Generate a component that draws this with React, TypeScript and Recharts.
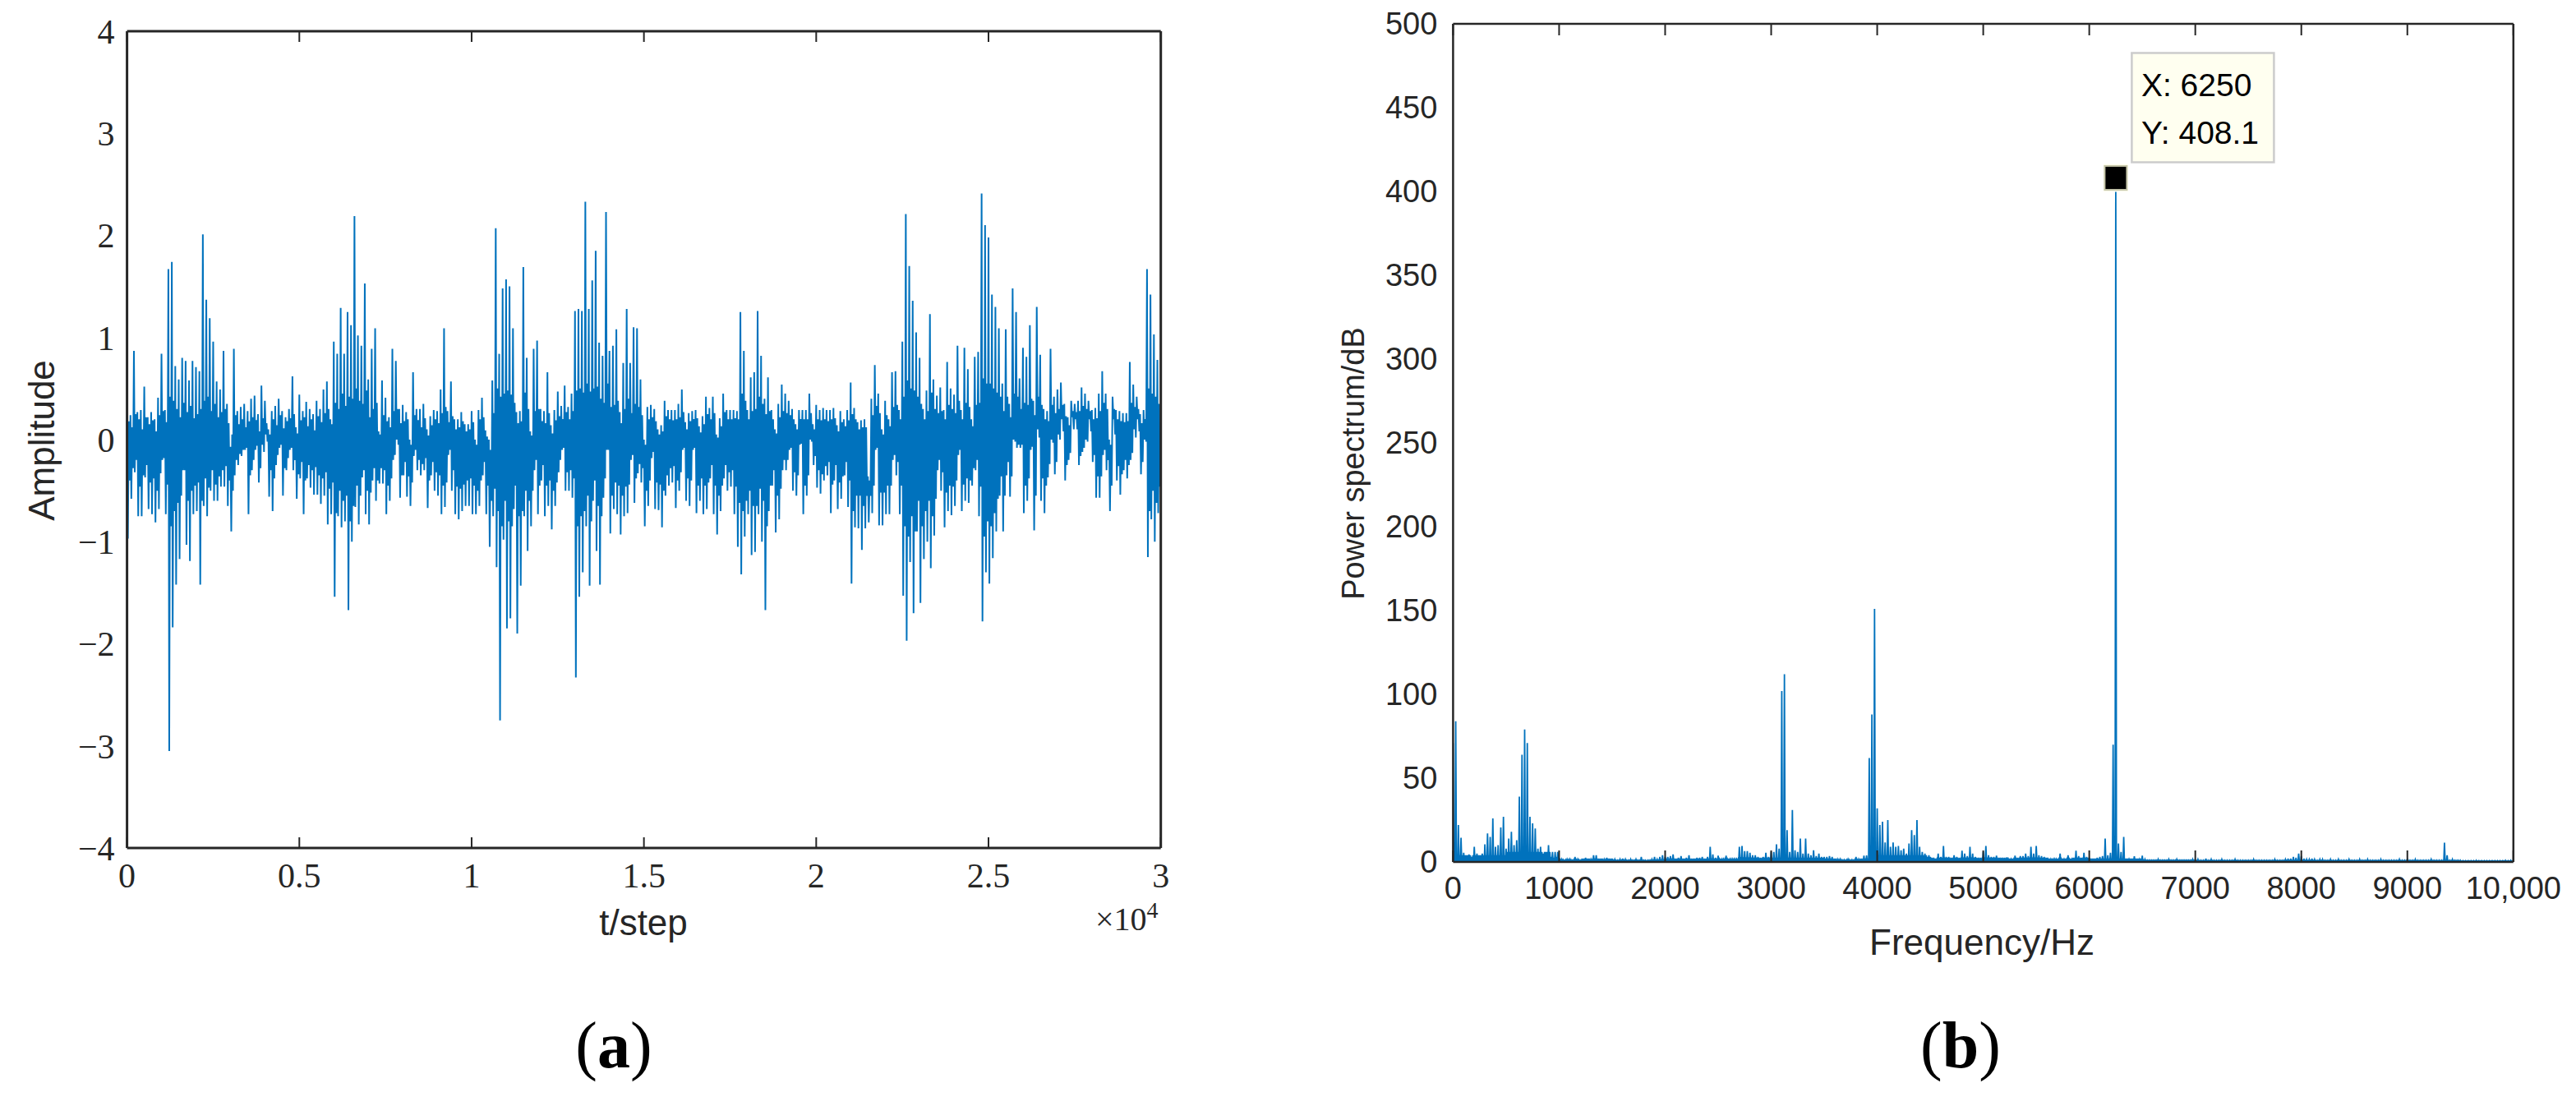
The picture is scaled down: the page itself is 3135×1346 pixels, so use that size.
import { LineChart, Line, XAxis, YAxis, ReferenceDot } from 'recharts';

// left panel, one high and one low reading per 100 steps
const ampStep = 100;
const ampHigh = [
  .32, .24, .87, .27, .29, .52, .22, .27, .2, .41, .84, .29, 1.67, 1.74, .72, .59, .8, .77, .58, .77,
  .71, .67, 2.01, 1.37, 1.19, .96, .57, .49, .87, .35, -.07, .89, .28, .32, .35, .28, .4, .43, .25, .53,
  .38, .1, .28, .33, .4, .28, .22, .3, .62, .12, .44, .28, .37, .3, .25, .38, .3, .49, .57, .2,
  .96, .84, 1.29, .84, 1.25, 1.12, 2.19, 1.02, .92, 1.53, .59, .89, 1.09, .08, .58, .41, .22, .89, .77, .3,
  .34, .27, 0, .66, .3, .3, .35, .1, .23, .29, .28, .49, 1.09, .28, .57, .2, .2, .27, .15, .15,
  .28, 0, .29, .41, .09, 0, .58, 2.07, .84, 1.48, 1.57, 1.5, 1.09, .27, .28, 1.69, .8, .08, .89, .97,
  .3, .28, .66, .14, .29, .47, .33, .53, .32, .45, 1.26, 1.28, 1.26, 2.33, 1.28, 1.56, 1.85, .95, .82, 2.23,
  .87, .92, 1.08, .27, .75, 1.28, .75, 1.1, 1.09, .59, 0, .32, .34, .3, .1, .14, .38, .29, .29, .29,
  .35, .49, .17, .26, .28, .29, .13, .23, .42, .31, .42, .05, .21, .45, .29, .29, .29, .28, 1.25, .87,
  .29, .61, .66, 1.26, .82, .4, .61, .29, .1, .35, .54, .45, .38, .3, .15, .29, .29, .29, .45, .15,
  .34, .29, .31, .29, .29, .31, .14, .28, .2, .29, .56, .31, .17, .19, .2, -.36, .4, .73, .45, .1,
  .38, .2, .66, .67, .29, .96, 2.21, 1.7, 1.36, 1.05, .8, .3, .48, 1.23, .59, .43, .51, .29, .76, .5,
  .44, .92, .29, .9, .69, .2, .81, .86, 2.41, 2.1, 1.98, 1.42, 1.3, 1.09, .55, 1.08, .35, 1.48, 1.25, .6,
  .9, .81, 1.12, .38, 1.3, .83, .3, .28, .89, .42, .49, .56, .35, .22, .38, .35, .38, .51, .45, .38,
  .29, .31, .45, .67, .45, 0, .42, .29, .28, .26, .26, .76, .54, .42, .25, .29, 1.67, 1.42, 1.03, .78,
];
const ampLow = [
  -.97, -.58, -.32, -.75, -.75, -.37, -.68, -.73, -.81, -.68, -.2, -.73, -3.05, -1.84, -1.42, -1.17, -.3, -1.03, -1.19, -.73,
  -.7, -1.42, -.65, -.75, -.5, -.6, -.6, -.46, -.46, -.65, -.9, -.35, -.25, -.16, -.1, -.73, -.3, -.1, -.42, -.05,
  .05, -.56, -.7, -.25, -.08, -.55, -.3, -.1, -.3, -.58, -.38, -.73, -.38, -.47, -.54, -.54, -.63, -.55, -.83, -.73,
  -1.54, -.75, -.86, -.8, -1.67, -1, -.66, -.83, -.37, -.73, -.83, -.4, -.6, -.43, -.43, -.73, -.6, -.2, 0, -.57,
  -.35, -.56, -.65, -.16, -.3, -.35, -.3, -.67, -.35, -.5, -.55, -.73, -.66, -.15, -.5, -.73, -.78, -.7, -.65, -.65,
  -.73, -.73, -.65, -.35, -.73, -1.05, -.75, -1.25, -2.75, -.98, -1.85, -1.75, -.68, -1.9, -1.43, -.75, -1.09, -.85, -.3, -.73,
  -.4, -.75, -.65, -.88, -.65, -.32, -.1, -.5, -.5, -.57, -2.33, -1.54, -1.3, -.85, -1.43, -.6, -1.09, -1.42, -.57, -.1,
  -.92, -.68, -.73, -.93, -.75, -.72, -.2, -.62, -.33, -.42, -.85, -.65, -.18, -.68, -.69, -.86, -.55, -.45, -.42, -.67,
  -.5, -.1, -.6, -.65, -.1, -.72, -.6, -.73, -.68, -.38, -.73, -.93, -.7, -.38, -.5, -.46, -.73, -1.05, -1.32, -.95,
  -.73, -1.13, -1.1, -.73, -1, -1.67, -.7, -.45, -.91, -.78, -.3, -.3, -.1, -.5, -.55, -.05, -.73, -.55, 0, -.25,
  -.47, -.53, -.4, -.35, -.72, -.4, -.68, -.58, -.35, -.66, -1.41, -.86, -.87, -1.08, -.87, -.81, -.72, -.1, -.84, -.84,
  -.73, -.73, -.2, -.35, -.73, -1.53, -1.97, -1.2, -1.7, -.9, -1.6, -1.17, -1, -1.26, -.94, -.3, -.5, -.86, -.7, -.74,
  -.65, -.15, -.7, -.6, -.62, -.45, -.3, -.75, -1.78, -1.3, -1.41, -1.16, -.9, -.55, -.9, -.35, -.56, 0, -.08, -.08,
  -.72, -.6, -.1, -.89, .1, -.6, -.72, -.37, 0, -.34, .05, .2, -.4, -.2, .22, .2, -.25, -.12, 0, .2,
  -.22, -.57, -.57, -.15, -.3, -.7, .2, -.4, -.54, -.3, -.38, -.2, .1, .2, -.34, 0, -1.15, -.78, -1, -.72,
];
// second pass inside the dense part of the trace, same bins
const ampInnerHigh = [
  .18, .12, .25, .2, .1, .22, .15, .19, .08, .24, .28, .17, .42, .38, .3, .22, .36, .27, .33, .21,
  .25, .3, .38, .42, .28, .35, .22, .27, .3, .16, .05, .24, .15, .2, .12, .18, .22, .19, .08, .21,
  .16, .05, .2, .14, .24, .11, .18, .21, .25, .06, .19, .22, .13, .2, .09, .23, .17, .26, .3, .15,
  .36, .3, .45, .33, .42, .4, .5, .38, .35, .48, .22, .3, .36, .05, .24, .18, .12, .28, .3, .16,
  .18, .2, -.05, .24, .19, .12, .21, .04, .14, .2, .16, .26, .32, .17, .23, .1, .12, .18, .08, .1,
  .17, -.05, .2, .22, .03, -.1, .26, .5, .42, .45, .48, .44, .36, .16, .18, .46, .3, .04, .28, .3,
  .18, .16, .26, .06, .19, .23, .2, .27, .2, .28, .48, .5, .46, .55, .47, .5, .52, .4, .36, .55,
  .32, .34, .38, .16, .3, .4, .26, .35, .32, .24, -.05, .2, .22, .18, .05, .08, .23, .2, .19, .2,
  .22, .27, .1, .18, .2, .21, .07, .15, .25, .2, .26, .02, .13, .27, .2, .2, .21, .2, .45, .38,
  .2, .28, .3, .42, .35, .25, .28, .2, .06, .22, .28, .26, .24, .2, .1, .2, .2, .2, .26, .1,
  .2, .19, .2, .18, .2, .21, .08, .17, .13, .19, .25, .2, .1, .12, .12, -.4, .24, .33, .26, .05,
  .24, .13, .32, .34, .2, .42, .58, .5, .48, .42, .35, .2, .28, .46, .3, .26, .28, .2, .34, .3,
  .26, .38, .2, .36, .32, .13, .34, .36, .6, .55, .55, .5, .46, .42, .28, .42, .22, .45, .42, .3,
  .36, .34, .4, .24, .42, .34, .2, .18, .34, .26, .3, .34, .23, .14, .28, .27, .28, .33, .3, .28,
  .2, .21, .28, .36, .3, -.05, .3, .2, .18, .17, .18, .36, .32, .3, .16, .2, .5, .45, .42, .35,
];
const ampInnerLow = [
  -.4, -.28, -.2, -.46, -.35, -.25, -.42, -.38, -.5, -.33, -.18, -.44, -.85, -.7, -.62, -.55, -.3, -.6, -.5, -.45,
  -.42, -.6, -.38, -.47, -.3, -.44, -.36, -.3, -.26, -.4, -.5, -.2, -.14, -.1, -.08, -.35, -.2, -.06, -.28, -.12,
  -.02, -.3, -.38, -.15, -.05, -.28, -.18, -.08, -.2, -.34, -.22, -.4, -.25, -.3, -.27, -.35, -.38, -.32, -.48, -.42,
  -.72, -.5, -.6, -.55, -.8, -.65, -.45, -.55, -.3, -.5, -.52, -.28, -.4, -.28, -.3, -.45, -.38, -.15, -.05, -.35,
  -.22, -.36, -.42, -.1, -.2, -.24, -.18, -.4, -.22, -.32, -.35, -.45, -.42, -.1, -.3, -.46, -.48, -.44, -.4, -.38,
  -.45, -.5, -.4, -.22, -.45, -.6, -.48, -.7, -.85, -.6, -.8, -.85, -.45, -.75, -.7, -.5, -.6, -.5, -.2, -.45,
  -.25, -.45, -.4, -.5, -.42, -.2, -.08, -.32, -.3, -.38, -.85, -.75, -.7, -.55, -.8, -.4, -.65, -.75, -.38, -.1,
  -.55, -.42, -.45, -.55, -.46, -.44, -.15, -.38, -.24, -.28, -.5, -.4, -.12, -.42, -.44, -.5, -.35, -.28, -.26, -.4,
  -.32, -.08, -.38, -.4, -.08, -.45, -.38, -.45, -.42, -.25, -.45, -.55, -.45, -.25, -.32, -.3, -.46, -.62, -.7, -.6,
  -.5, -.65, -.65, -.48, -.6, -.85, -.45, -.3, -.55, -.48, -.2, -.2, -.08, -.32, -.35, -.04, -.45, -.35, -.02, -.16,
  -.3, -.34, -.26, -.22, -.44, -.25, -.42, -.36, -.22, -.4, -.7, -.55, -.55, -.65, -.55, -.55, -.45, -.08, -.52, -.52,
  -.45, -.45, -.15, -.22, -.45, -.85, -.95, -.75, -.9, -.6, -.85, -.7, -.6, -.75, -.58, -.2, -.32, -.52, -.45, -.46,
  -.4, -.1, -.44, -.38, -.4, -.28, -.2, -.46, -.95, -.8, -.85, -.72, -.58, -.36, -.55, -.22, -.36, -.02, -.05, -.05,
  -.45, -.38, -.07, -.55, .02, -.38, -.45, -.24, -.03, -.22, 0, .08, -.25, -.13, .1, .1, -.16, -.08, -.02, .08,
  -.15, -.36, -.36, -.1, -.2, -.45, .05, -.26, -.34, -.2, -.25, -.13, .02, .08, -.22, -.02, -.7, -.5, -.62, -.46,
];
const ampXTicks = [0, 5000, 10000, 15000, 20000, 25000, 30000];
const ampXLabels = ['0', '0.5', '1', '1.5', '2', '2.5', '3'];
const ampYTicks = [-4, -3, -2, -1, 0, 1, 2, 3, 4];

// right panel, one peak per 25 Hz
const freqStep = 25;
const powerFloor = 0.3;
const powerPeaks = [
  71, 84, 22, 14.5, 5.5, 4, 4.5, 3, 9, 5, 4, 5, 10.5, 17, 15, 26, 9, 10, 20.6, 27,
  8, 14, 18, 10, 13, 39, 64, 79, 71, 27, 23, 20, 8, 9, 5, 6, 10, 3, 2.5, 3,
  2.5, 1.5, 1, 1.5, 1.5, 1, 3, 1.5, 1, 2, 2.5, 2, 1.5, 4, 4, 2, 2, 1.5, 2.5, 2,
  2, 1.5, 1, 1.5, 2, 1.5, 1, 1.5, 1, 1.5, 1, 3, 1, .8, 1, 1.5, 3, 1.5, 3, 4,
  3, 3, 3.5, 4.5, 2, 2.5, 3.5, 2, 2.5, 4, 2, 2, 2.5, 2.5, 3, 2, 3, 9, 4.5, 2.5,
  3.7, 2, 1.5, 3.7, 2, 1.5, 1.5, 1.5, 9, 9.5, 6.5, 6.5, 5.5, 4, 4, 3, 2.5, 3, 5.5, 3,
  6, 6, 10.5, 8, 102, 112, 19, 6, 31, 7, 6, 14, 5, 14, 5, 4, 7, 3.5, 5, 3,
  3, 3, 3.5, 3, 2, 1.5, 1.5, 1, 1, 1.5, 1, 1, 3, 1.5, 2, 3.7, 3.9, 62, 88, 151,
  32, 22, 24, 11.6, 25, 9, 11.6, 9, 9.6, 7, 8, 5, 11, 19, 16, 25, 9, 6, 5, 3,
  3, 2.5, 2, 5, 3, 9.6, 3, 3, 2.5, 4, 3, 2.5, 6.7, 5, 3.5, 9, 5, 3, 2.5, 2.5,
  6, 9.6, 4, 3, 3, 3.8, 2.5, 2.5, 2.5, 2.8, 2, 2, 3.8, 2.5, 3.5, 3.5, 5, 3.5, 9, 5,
  9.5, 4, 3.5, 3, 2.5, 2, 2, 1.5, 2, 5, 2, 2, 4, 2, 2.5, 6.7, 3.5, 2.5, 5.5, 3,
  2.5, 2, 2, 2.5, 3, 3.5, 14, 4, 5.5, 70, 408.1, 11, 6, 15, 2, 1.5, 2, 3.4, 2, 1.5,
  3.8, 1.5, 1, 1, 1, 1, 1.5, 1, 1, 1, 1.5, 1, 1, 1.5, 1, 1, 1, 1, 1, 1.5,
  1, 1.5, 1, 1, 2, 1, 1.5, 1, 1, 1, 1.5, 1, 1, 1, 1, 1.5, 1, 1, 1, 1,
  1, 1, 1.5, 1, 1, 1, 1, 1, 1, 1, 1.5, 1, 1, 1, 1.5, 2, 2, 3, 2.5, 5,
  3.5, 2, 1.5, 1.5, 2, 1.5, 1, 1.5, 1.5, 1, 1, 1.5, 1, 1, 1.5, 1, 1, 1, 1.5, 1,
  1, 1, 1.5, 1, 1, 1.5, 1, 1, 1, 1, 1.5, 1, 1, 1, 1, 1, 1, 1.5, 1, 1,
  1.5, 1, 1, 1.5, 1, 1, 1, 1, 1, 1.5, 1, 1, 1, 1, 11.5, 4, 1, 1.5, 1, 1,
  1, .8, .8, .8, .8, .8, 1, .8, .8, .8, .8, .8, .8, .8, .8, .8, .8, 1, .8, 1,
];
// solid base under the peaks, one reading per 500 Hz
const powerBase = [4, 6, 1.2, 1, 1.2, 1.5, 2.5, 1.2, 4, 1.5, 1.5, 1.5, 2, 1, .8, .8, .8, .8, .8, .6];
const freqTicks = [0, 1000, 2000, 3000, 4000, 5000, 6000, 7000, 8000, 9000, 10000];
const freqLabels = ['0', '1000', '2000', '3000', '4000', '5000', '6000', '7000', '8000', '9000', '10,000'];
const powerTicks = [0, 50, 100, 150, 200, 250, 300, 350, 400, 450, 500];
const tipPoint = { x: 6250, y: 408.1 };

const ampData = ampHigh.flatMap((hi, i) => [
  { t: i * ampStep, a: hi },
  { t: i * ampStep + ampStep / 4, a: ampLow[i] },
  { t: i * ampStep + ampStep / 2, a: ampInnerHigh[i] },
  { t: i * ampStep + (ampStep * 3) / 4, a: ampInnerLow[i] },
]);
const powerData = powerPeaks.flatMap((p, i) => [
  { f: i * freqStep, p },
  { f: i * freqStep + freqStep / 4, p: powerFloor },
  { f: i * freqStep + freqStep / 2, p: powerBase[Math.floor(i / 20)] },
  { f: i * freqStep + (freqStep * 3) / 4, p: powerFloor },
]);

const DARK = '#262626';
const BLUE = '#0072BD';
const SANS = '"Liberation Sans", Arial, sans-serif';
const SERIF = '"Liberation Serif", "Times New Roman", serif';

const noLabel = () => <g />;

function DataTip({ cx, cy }: { cx?: number; cy?: number }) {
  const x = cx ?? 0;
  const y = cy ?? 0;
  return (
    <g>
      <rect x={x - 15} y={y - 17} width={30} height={34} fill="#FFFFF0" />
      <rect x={x - 13.5} y={y - 14.5} width={27} height={29} fill="#000" stroke="#C4C4A8" strokeWidth={2} />
      <rect x={x + 19.5} y={y - 152} width={173} height={133} fill="#FFFFF0" stroke="#CCCCCC" strokeWidth={2.5} />
      <text x={x + 31} y={y - 99} fontFamily={SANS} fontSize={39} fill="#000">X: {tipPoint.x}</text>
      <text x={x + 31} y={y - 41} fontFamily={SANS} fontSize={39} fill="#000">Y: {tipPoint.y}</text>
    </g>
  );
}

function AmplitudeChart() {
  const line = { stroke: DARK, strokeWidth: 3 };
  const thin = { stroke: DARK, strokeWidth: 2 };
  const tick = { fontFamily: SERIF, fontSize: 42, fill: DARK };
  return (
    <LineChart
      width={1560}
      height={1346}
      data={ampData}
      margin={{ top: 38, right: 147.3, bottom: 234, left: 54.6 }}
      style={{ position: 'absolute', left: 0, top: 0 }}
    >
      <XAxis xAxisId="top" orientation="top" mirror type="number" dataKey="t" domain={[0, 30000]} ticks={ampXTicks} interval={0} tick={noLabel} tickSize={13} axisLine={line} tickLine={thin} />
      <XAxis xAxisId="in" mirror type="number" dataKey="t" domain={[0, 30000]} ticks={ampXTicks} interval={0} tick={noLabel} tickSize={13} axisLine={line} tickLine={thin} />
      <YAxis yAxisId="right" orientation="right" mirror type="number" domain={[-4, 4]} ticks={ampYTicks} interval={0} tick={noLabel} tickSize={14} axisLine={line} tickLine={line} />
      <YAxis yAxisId="in" mirror type="number" domain={[-4, 4]} ticks={ampYTicks} interval={0} tick={noLabel} tickSize={14} axisLine={line} tickLine={line} />
      <XAxis
        xAxisId="main"
        type="number"
        dataKey="t"
        domain={[0, 30000]}
        ticks={ampXTicks}
        interval={0}
        height={80}
        axisLine={false}
        tickLine={false}
        tickSize={0}
        tickMargin={18}
        tick={tick}
        tickFormatter={(v: number) => ampXLabels[ampXTicks.indexOf(v)]}
        allowDataOverflow
      />
      <YAxis
        yAxisId="main"
        type="number"
        domain={[-4, 4]}
        ticks={ampYTicks}
        interval={0}
        width={100}
        axisLine={false}
        tickLine={false}
        tickSize={0}
        tickMargin={15}
        tick={tick}
        tickFormatter={(v: number) => (v < 0 ? `\u2212${-v}` : `${v}`)}
        allowDataOverflow
      />
      <Line xAxisId="main" yAxisId="main" type="linear" dataKey="a" stroke={BLUE} strokeWidth={2} dot={false} isAnimationActive={false} />
      <text x={783} y={1138} textAnchor="middle" fontFamily={SANS} fontSize={44} fill={DARK}>t/step</text>
      <text x={66} y={536} textAnchor="middle" transform="rotate(-90 66 536)" fontFamily={SANS} fontSize={44} fill={DARK}>Amplitude</text>
      <text x={1333} y={1132} fontFamily={SERIF} fontSize={40} fill={DARK}>
        ×10<tspan dy={-15} fontSize={28}>4</tspan>
      </text>
      <text x={747} y={1299} textAnchor="middle" fontFamily={SERIF} fontSize={80} fill="#000">
        (<tspan fontWeight="bold">a</tspan>)
      </text>
    </LineChart>
  );
}

function SpectrumChart() {
  const line = { stroke: DARK, strokeWidth: 2.5 };
  const thin = { stroke: DARK, strokeWidth: 2 };
  const tick = { fontFamily: SANS, fontSize: 38, fill: DARK };
  return (
    <LineChart
      width={1575}
      height={1346}
      data={powerData}
      margin={{ top: 29, right: 76.2, bottom: 217, left: 108.4 }}
      style={{ position: 'absolute', left: 1560, top: 0 }}
    >
      <XAxis xAxisId="top" orientation="top" mirror type="number" dataKey="f" domain={[0, 10000]} ticks={freqTicks} interval={0} tick={noLabel} tickSize={14} axisLine={line} tickLine={thin} />
      <XAxis xAxisId="in" mirror type="number" dataKey="f" domain={[0, 10000]} ticks={freqTicks} interval={0} tick={noLabel} tickSize={14} axisLine={line} tickLine={thin} />
      <YAxis yAxisId="right" orientation="right" mirror type="number" domain={[0, 500]} ticks={powerTicks} interval={0} tick={noLabel} tickSize={14} axisLine={line} tickLine={line} />
      <YAxis yAxisId="in" mirror type="number" domain={[0, 500]} ticks={powerTicks} interval={0} tick={noLabel} tickSize={14} axisLine={line} tickLine={line} />
      <XAxis
        xAxisId="main"
        type="number"
        dataKey="f"
        domain={[0, 10000]}
        ticks={freqTicks}
        interval={0}
        height={80}
        axisLine={false}
        tickLine={false}
        tickSize={0}
        tickMargin={18}
        tick={tick}
        tickFormatter={(v: number) => freqLabels[freqTicks.indexOf(v)]}
        allowDataOverflow
      />
      <YAxis
        yAxisId="main"
        type="number"
        domain={[0, 500]}
        ticks={powerTicks}
        interval={0}
        width={100}
        axisLine={false}
        tickLine={false}
        tickSize={0}
        tickMargin={19}
        tick={tick}
        allowDataOverflow
      />
      <Line xAxisId="main" yAxisId="main" type="linear" dataKey="p" stroke={BLUE} strokeWidth={1.8} dot={false} isAnimationActive={false} />
      <ReferenceDot xAxisId="main" yAxisId="main" x={tipPoint.x} y={tipPoint.y} ifOverflow="visible" shape={(props: any) => <DataTip cx={props.cx} cy={props.cy} />} />
      <text x={852} y={1162} textAnchor="middle" fontFamily={SANS} fontSize={44} fill={DARK}>Frequency/Hz</text>
      <text x={100} y={564} textAnchor="middle" transform="rotate(-90 100 564)" fontFamily={SANS} fontSize={38} fill={DARK}>Power spectrum/dB</text>
      <text x={826} y={1299} textAnchor="middle" fontFamily={SERIF} fontSize={80} fill="#000">
        (<tspan fontWeight="bold">b</tspan>)
      </text>
    </LineChart>
  );
}

export default function App() {
  return (
    <div style={{ position: 'absolute', left: 0, top: 0, width: 3135, height: 1346, background: '#fff', overflow: 'hidden' }}>
      <AmplitudeChart />
      <SpectrumChart />
    </div>
  );
}
